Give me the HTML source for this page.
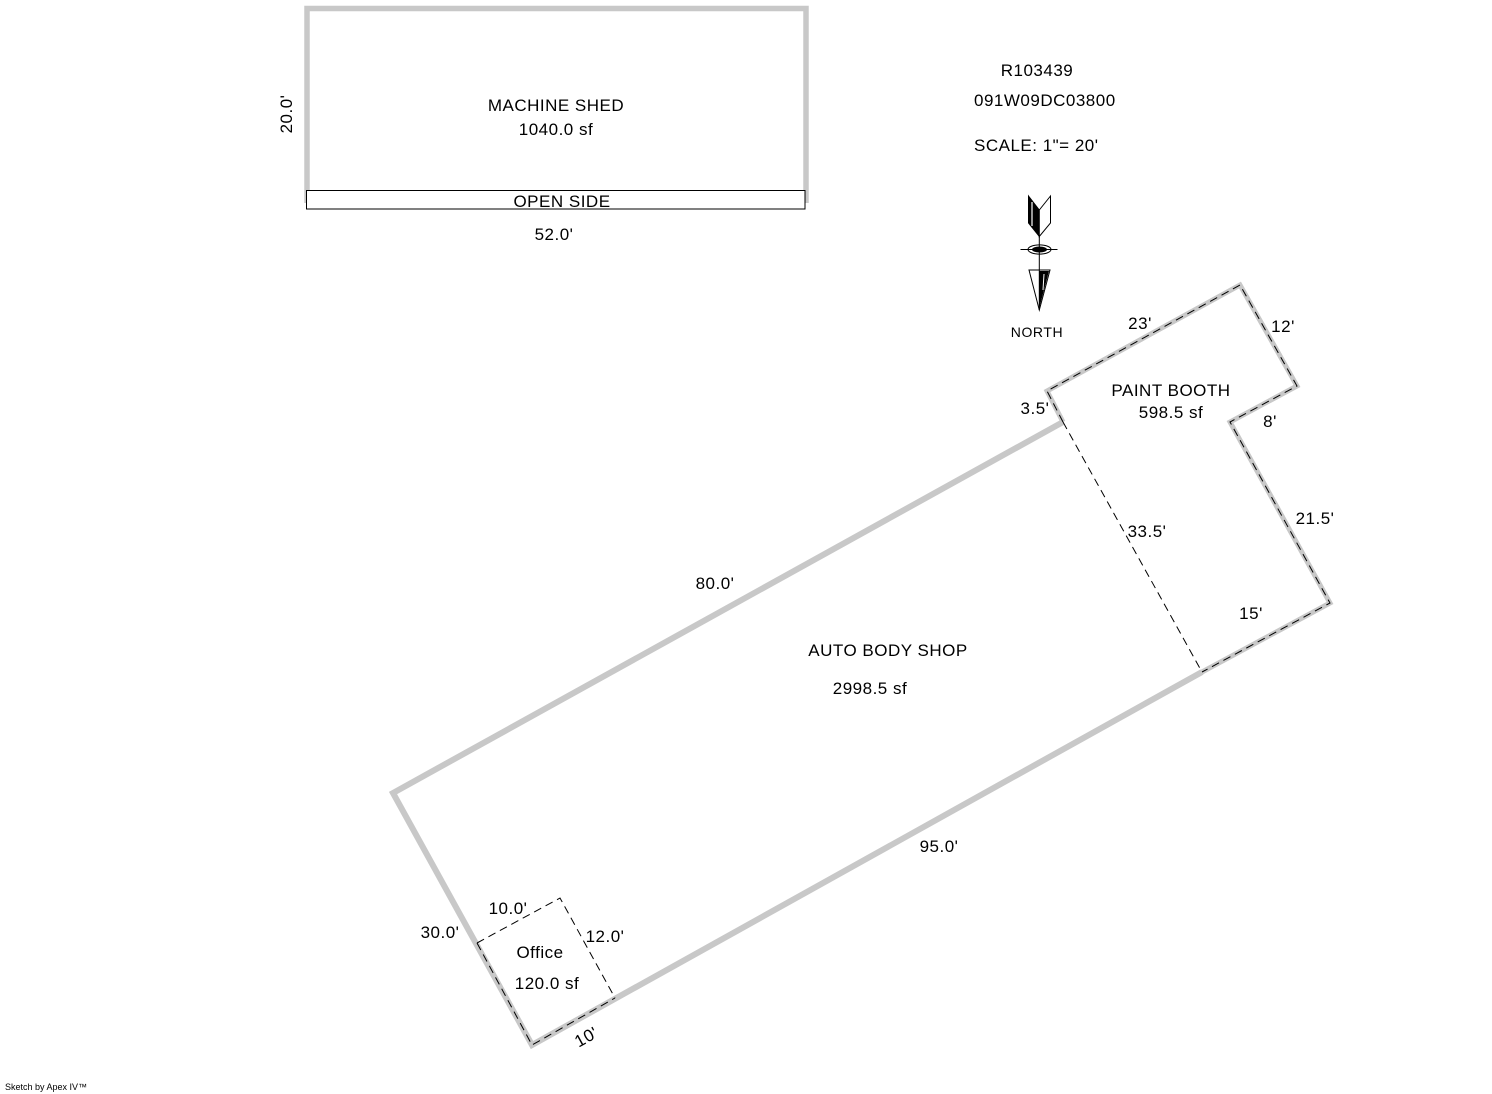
<!DOCTYPE html>
<html><head><meta charset="utf-8"><style>
html,body{margin:0;padding:0;background:#fff;}
svg{display:block;}
text{font-family:"Liberation Sans",Arial,sans-serif;font-size:17px;letter-spacing:0.5px;fill:#000;}
</style></head><body>
<svg width="1492" height="1094" viewBox="0 0 1492 1094" xmlns="http://www.w3.org/2000/svg">
<rect width="1492" height="1094" fill="#fff"/>
<!-- Machine shed -->
<polyline points="307,203 307,8.5 806,8.5 806,203" fill="none" stroke="#c8c8c8" stroke-width="5.5"/>
<rect x="306.5" y="190.5" width="498.5" height="18.5" fill="#fff" stroke="#000" stroke-width="1"/>
<text x="556" y="111" text-anchor="middle">MACHINE SHED</text>
<text x="556" y="135" text-anchor="middle">1040.0 sf</text>
<text x="562" y="207" text-anchor="middle">OPEN SIDE</text>
<text x="554" y="240" text-anchor="middle">52.0'</text>
<text transform="translate(292,114) rotate(-90)" text-anchor="middle">20.0'</text>

<!-- header text -->
<text x="1037" y="76" text-anchor="middle">R103439</text>
<text x="974" y="106">091W09DC03800</text>
<text x="974" y="151">SCALE: 1"= 20'</text>

<!-- North arrow -->
<polygon points="1028.5,196 1039.3,210 1039.3,236.5 1028.5,223" fill="#000" stroke="#000" stroke-width="1"/>
<line x1="1032" y1="202" x2="1032" y2="226" stroke="#fff" stroke-width="1.2"/>
<polygon points="1050.5,196 1039.3,210 1039.3,236.5 1050.5,223" fill="#fff" stroke="#000" stroke-width="1"/>
<line x1="1020.5" y1="249.5" x2="1057.5" y2="249.5" stroke="#000" stroke-width="1"/>
<ellipse cx="1039.5" cy="249.5" rx="11.5" ry="4.6" fill="none" stroke="#000" stroke-width="1"/>
<ellipse cx="1039.5" cy="249.5" rx="7.5" ry="3" fill="#000"/>
<line x1="1039.3" y1="236.5" x2="1039.3" y2="310" stroke="#000" stroke-width="1"/>
<polygon points="1029,270 1050,270 1039.3,310" fill="none" stroke="#000" stroke-width="1"/>
<polygon points="1039.3,271 1049,271 1039.3,308" fill="#000"/>
<line x1="1044" y1="274" x2="1043" y2="290" stroke="#fff" stroke-width="1"/>
<text x="1037" y="337" text-anchor="middle" style="font-size:14px;letter-spacing:0.6px">NORTH</text>

<!-- Auto body shop (gray) -->
<polyline points="1063,422 393,793 532,1045 1202,672" fill="none" stroke="#c8c8c8" stroke-width="6" stroke-linejoin="miter"/>
<!-- Paint booth (gray) -->
<polyline points="1063,422 1047,391 1240,285 1297,386 1230,422 1330,603 1202,672" fill="none" stroke="#c8c8c8" stroke-width="5" stroke-linejoin="miter"/>
<!-- Paint booth dashed overlay -->
<polyline points="1063,422 1047,391 1240,285 1297,386 1230,422 1330,603 1202,672" fill="none" stroke="#000" stroke-width="1" stroke-dasharray="8 5"/>
<line x1="1063" y1="422" x2="1202" y2="672" stroke="#000" stroke-width="1" stroke-dasharray="8 5"/>
<!-- Office dashed -->
<polyline points="477,943 560,898 615,998" fill="none" stroke="#000" stroke-width="1" stroke-dasharray="8 5"/>
<polyline points="477,943 532,1045 615,998" fill="none" stroke="#000" stroke-width="1" stroke-dasharray="8 5"/>

<!-- labels -->
<text x="1140" y="329" text-anchor="middle">23'</text>
<text x="1283" y="332" text-anchor="middle">12'</text>
<text x="1171" y="396" text-anchor="middle">PAINT BOOTH</text>
<text x="1171" y="418" text-anchor="middle">598.5 sf</text>
<text x="1035" y="414" text-anchor="middle">3.5'</text>
<text x="1270" y="427" text-anchor="middle">8'</text>
<text x="1147" y="537" text-anchor="middle">33.5'</text>
<text x="1315" y="524" text-anchor="middle">21.5'</text>
<text x="1251" y="619" text-anchor="middle">15'</text>
<text x="715" y="589" text-anchor="middle">80.0'</text>
<text x="888" y="656" text-anchor="middle">AUTO BODY SHOP</text>
<text x="870" y="694" text-anchor="middle">2998.5 sf</text>
<text x="939" y="852" text-anchor="middle">95.0'</text>
<text x="440" y="938" text-anchor="middle">30.0'</text>
<text x="508" y="914" text-anchor="middle">10.0'</text>
<text x="605" y="942" text-anchor="middle">12.0'</text>
<text x="540" y="958" text-anchor="middle">Office</text>
<text x="547" y="989" text-anchor="middle">120.0 sf</text>
<text transform="translate(589,1042) rotate(-29)" text-anchor="middle">10'</text>

<text x="5" y="1090" style="font-size:9px;letter-spacing:0">Sketch by Apex IV™</text>
</svg>
</body></html>
